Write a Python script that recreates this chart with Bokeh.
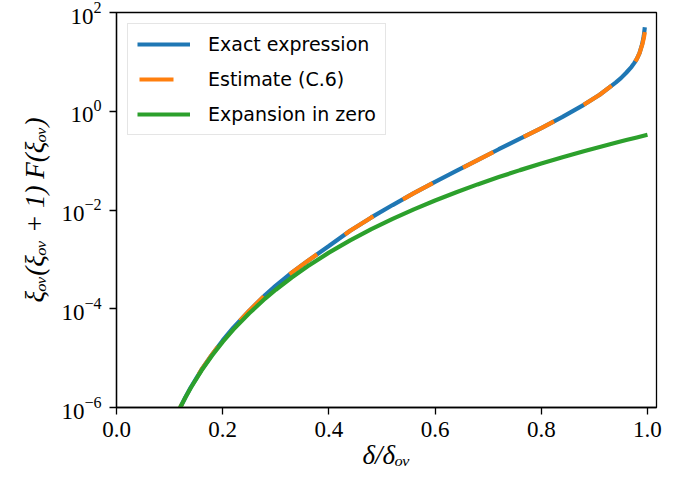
import math
from bokeh.plotting import figure
from bokeh.models import FixedTicker, Legend, LegendItem, Range1d, LogTickFormatter
from bokeh.embed import file_html
from bokeh.resources import INLINE

# ---- data ----
x_exact = [0.11, 0.12, 0.13, 0.14, 0.16, 0.18, 0.20, 0.22, 0.25, 0.28, 0.30, 0.33,
           0.36, 0.40, 0.44, 0.48, 0.52, 0.56, 0.60, 0.64, 0.68, 0.72, 0.76, 0.80,
           0.84, 0.88, 0.91, 0.94, 0.95, 0.96, 0.97, 0.975, 0.98, 0.985, 0.99,
           0.993, 0.995]
y_exact = [6.0e-7, 1.0e-6, 1.63e-6, 2.57e-6, 5.8e-6, 1.18e-5, 2.28e-5, 4.15e-5,
           9.1e-5, 1.9e-4, 2.95e-4, 5.4e-4, 9.3e-4, 1.86e-3, 3.8e-3, 7.08e-3,
           1.26e-2, 2.19e-2, 3.72e-2, 6.17e-2, 0.102, 0.17, 0.279, 0.457, 0.767,
           1.35, 2.16, 3.80, 4.68, 6.03, 7.94, 9.44, 11.5, 15.1, 22.9, 33.1, 50.1]
y_estimate = [6.0e-7, 1.0e-6, 1.63e-6, 2.57e-6, 5.8e-6, 1.18e-5, 2.28e-5, 4.15e-5,
              9.1e-5, 1.9e-4, 2.95e-4, 5.4e-4, 9.3e-4, 1.86e-3, 3.8e-3, 7.08e-3,
              1.26e-2, 2.19e-2, 3.72e-2, 6.17e-2, 0.102, 0.17, 0.279, 0.457, 0.767,
              1.35, 2.16, 3.80, 4.68, 6.03, 7.94, 9.44, 11.5, 15.0, 22.0, 30.0, 40.0]
x_zero = [0.11, 0.12, 0.13, 0.14, 0.16, 0.18, 0.20, 0.22, 0.25, 0.28, 0.30, 0.33,
          0.36, 0.40, 0.44, 0.48, 0.52, 0.56, 0.60, 0.64, 0.68, 0.72, 0.76, 0.80,
          0.84, 0.88, 0.91, 0.94, 0.96, 0.98, 1.00]
y_zero = [5.9e-7, 1.0e-6, 1.61e-6, 2.51e-6, 5.6e-6, 1.13e-5, 2.13e-5, 3.78e-5,
          8.1e-5, 1.61e-4, 2.43e-4, 4.3e-4, 7.26e-4, 1.37e-3, 2.42e-3, 4.08e-3,
          6.59e-3, 1.03e-2, 1.56e-2, 2.29e-2, 3.3e-2, 4.64e-2, 6.42e-2, 8.74e-2,
          0.117, 0.155, 0.189, 0.23, 0.261, 0.295, 0.333]

series_labels = ["Exact expression", "Estimate (C.6)", "Expansion in zero"]
x_ticks = [0.0, 0.2, 0.4, 0.6, 0.8, 1.0]
x_tick_labels = ["0.0", "0.2", "0.4", "0.6", "0.8", "1.0"]
y_ticks = [1e-6, 1e-4, 1e-2, 1, 1e2]
x_label = "\u03b4/\u03b4\u2092\u1d65"
y_label = "\u03be\u2092\u1d65(\u03be\u2092\u1d65 + 1) F(\u03be\u2092\u1d65)"

BLUE = "#1f77b4"
ORANGE = "#ff7f0e"
GREEN = "#2ca02c"
SERIF = "Liberation Serif"

X_MAX = 1.017
FRAME_W, FRAME_H = 540, 395
W, H = 676, 476
BL, BT = 116, 12

p = figure(width=W, height=H, y_axis_type="log",
           x_range=Range1d(0, X_MAX), y_range=Range1d(1e-6, 1e2),
           output_backend="svg", toolbar_location=None,
           min_border_left=BL, min_border_right=W - BL - FRAME_W,
           min_border_top=BT, min_border_bottom=H - BT - FRAME_H)

# dash phase so that a dash starts near x = 0.54 as in the reference
sx = FRAME_W / X_MAX
sy = FRAME_H / 8.0
pts = [(xx * sx, math.log10(yy) * sy) for xx, yy in zip(x_exact, y_estimate)]
s0 = 0.0
for (xa, ya), (xb, yb), xd in zip(pts[:-1], pts[1:], x_exact[1:]):
    seg = math.hypot(xb - xa, yb - ya)
    if xd >= 0.54:
        frac = (0.54 * sx - xa) / (xb - xa)
        s0 += seg * frac
        break
    s0 += seg
PERIOD = 68
dash_off = int(round((-s0) % PERIOD))

r1 = p.line(x_exact, y_exact, line_color=BLUE, line_width=4.2)
r2 = p.line(x_exact, y_estimate, line_color=ORANGE, line_width=4.2,
            line_dash="34 34", line_dash_offset=dash_off)
r3 = p.line(x_zero, y_zero, line_color=GREEN, line_width=4.2)
# legend-only glyph (a single off-range point draws nothing) with the
# dash phase seen in the reference legend
r2_leg = p.line([-1.0], [1e-9], line_color=ORANGE, line_width=4.2,
                line_dash="34 34", line_dash_offset=66)

p.grid.visible = False
p.outline_line_color = "black"
p.outline_line_width = 1.3

for ax in (p.xaxis[0], p.yaxis[0]):
    ax.major_label_text_font = SERIF
    ax.major_label_text_font_size = "23px"
    ax.major_label_text_color = "black"
    ax.axis_label_text_font = SERIF
    ax.axis_label_text_font_size = "27px"
    ax.axis_label_text_font_style = "italic"
    ax.axis_label_text_color = "black"
    ax.axis_line_color = "black"
    ax.axis_line_width = 1.3
    ax.major_tick_line_color = "black"
    ax.major_tick_line_width = 1.3
    ax.major_tick_out = 7
    ax.major_tick_in = 0
    ax.minor_tick_line_color = None

p.xaxis[0].ticker = FixedTicker(ticks=x_ticks)
p.xaxis[0].major_label_overrides = dict(zip(x_ticks, x_tick_labels))
p.xaxis[0].major_label_standoff = 7
p.xaxis[0].axis_label = x_label
p.xaxis[0].axis_label_standoff = 0

p.yaxis[0].ticker = FixedTicker(ticks=y_ticks)
p.yaxis[0].formatter = LogTickFormatter()
p.yaxis[0].major_label_standoff = 8
p.yaxis[0].axis_label = y_label
p.yaxis[0].axis_label_standoff = 8

legend = Legend(items=[LegendItem(label=series_labels[0], renderers=[r1]),
                       LegendItem(label=series_labels[1], renderers=[r2_leg]),
                       LegendItem(label=series_labels[2], renderers=[r3])],
                location="top_left", margin=11, padding=9, spacing=13,
                glyph_width=53, glyph_height=22, label_height=22,
                label_standoff=18, label_text_font="DejaVu Sans",
                label_text_font_size="19px", label_text_color="black",
                border_line_color="#cccccc", border_line_width=1,
                background_fill_color="white", background_fill_alpha=0.8)
p.add_layout(legend)

open("out.html", "w").write(file_html(p, INLINE))
